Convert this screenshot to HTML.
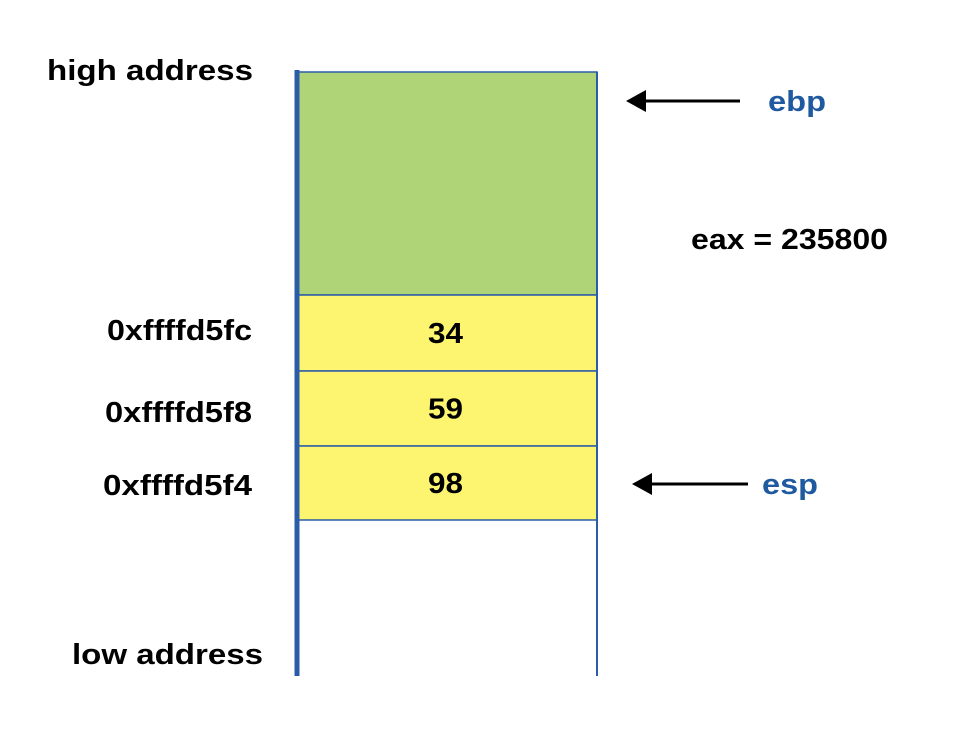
<!DOCTYPE html>
<html><head><meta charset="utf-8"><style>
html,body{margin:0;padding:0;background:#fff;}
svg{display:block;font-family:"Liberation Sans",Arial,sans-serif;font-weight:bold;}
</style></head><body>
<svg id="d" width="975" height="750" viewBox="0 0 975 750">
<rect x="297" y="72" width="300" height="223" fill="#aed477" stroke="#2a5ca8" stroke-width="1.5"/>
<g id="cells"></g>
<line x1="297" y1="70" x2="297" y2="676" stroke="#2a5ca8" stroke-width="5"/>
<line x1="597" y1="72" x2="597" y2="676" stroke="#2a5ca8" stroke-width="2"/>
<text x="47" y="80" font-size="29" textLength="206" lengthAdjust="spacingAndGlyphs" fill="#000">high address</text>
<text x="72" y="664" font-size="29" textLength="191" lengthAdjust="spacingAndGlyphs" fill="#000">low address</text>
<text x="691" y="249" font-size="29" textLength="197" lengthAdjust="spacingAndGlyphs" fill="#000">eax = 235800</text>
<g>
<line x1="740" y1="101" x2="645" y2="101" stroke="#000" stroke-width="3"/>
<polygon points="626,101 646,90 646,112" fill="#000"/>
<text x="768" y="111" font-size="29" textLength="58" lengthAdjust="spacingAndGlyphs" fill="#1f5aa0">ebp</text>
</g>
<g>
<line x1="748" y1="484" x2="651" y2="484" stroke="#000" stroke-width="3"/>
<polygon points="632,484 652,473 652,495" fill="#000"/>
<text x="762" y="494" font-size="29" textLength="56" lengthAdjust="spacingAndGlyphs" fill="#1f5aa0">esp</text>
</g>
</svg>
<script>
const addresses = ["0xffffd5fc","0xffffd5f8","0xffffd5f4"];
const values = [34,59,98];
const ns="http://www.w3.org/2000/svg";
const g=document.getElementById("cells");
const tops=[295,371,446], h=[76,75,74], ax=[107,105,103], ay=[340,422,495];
for(let i=0;i<values.length;i++){
  const y=tops[i]!==undefined?tops[i]:295+i*75, hh=h[i]||75;
  const r=document.createElementNS(ns,"rect");
  r.setAttribute("x",297);r.setAttribute("y",y);r.setAttribute("width",300);r.setAttribute("height",hh);
  r.setAttribute("fill","#fdf56f");r.setAttribute("stroke","#2a5ca8");r.setAttribute("stroke-width","1.5");
  
  
  g.appendChild(r);
  const t=document.createElementNS(ns,"text");
  t.setAttribute("x",428);t.setAttribute("y",y+hh/2+10);t.setAttribute("font-size","29");
  t.setAttribute("textLength","35");t.setAttribute("lengthAdjust","spacingAndGlyphs");
  t.textContent=values[i];
  
  
  g.appendChild(t);
  const a=document.createElementNS(ns,"text");
  a.setAttribute("x",ax[i]);a.setAttribute("y",ay[i]);a.setAttribute("font-size","29");
  a.setAttribute("textLength",252-ax[i]);a.setAttribute("lengthAdjust","spacingAndGlyphs");
  a.textContent=addresses[i];
  
  
  g.appendChild(a);
}
</script>
</body></html>
